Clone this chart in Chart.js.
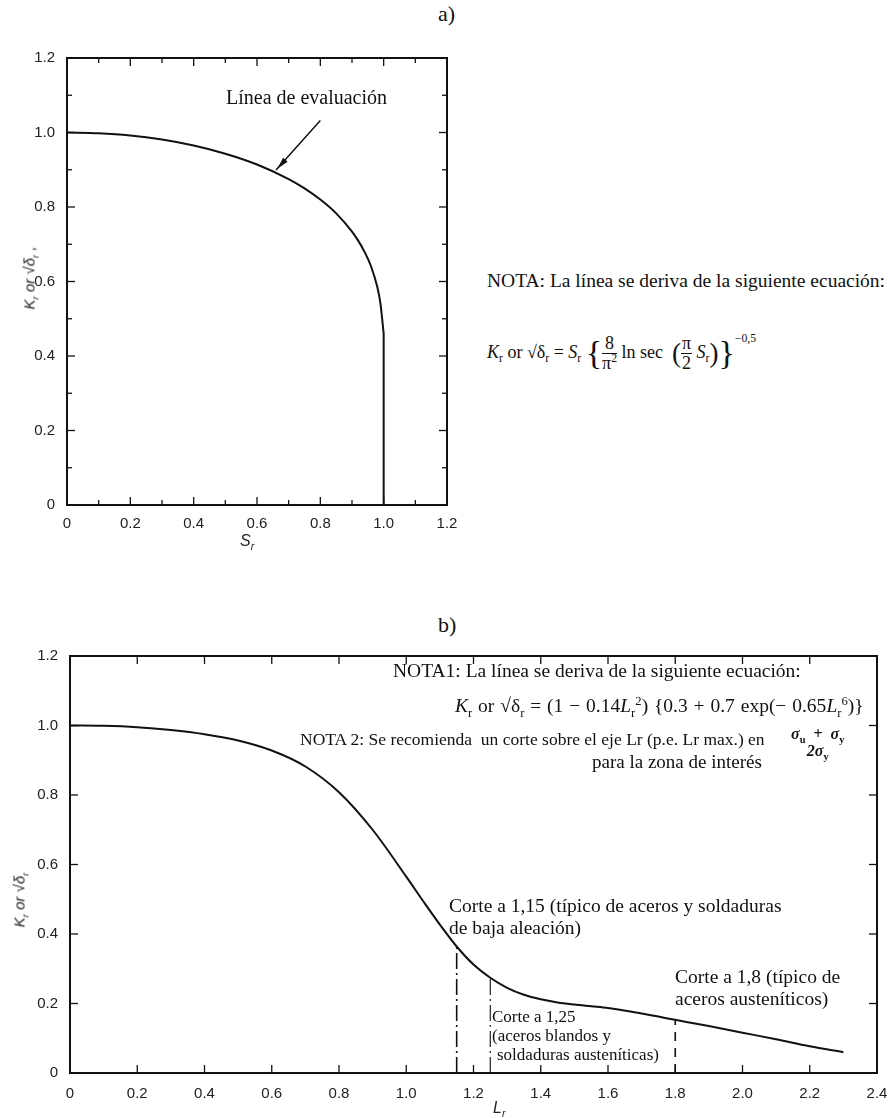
<!DOCTYPE html>
<html>
<head>
<meta charset="utf-8">
<script src="https://cdn.jsdelivr.net/npm/chart.js@4.4.1/dist/chart.umd.min.js"></script>
<style>
  html, body { margin:0; padding:0; background:#fff; }
  #wrap { position:relative; width:894px; height:1118px; background:#fff; overflow:hidden; }
  canvas { position:absolute; }
  .t { position:absolute; font-family:"Liberation Serif","Times New Roman",serif; color:#111; white-space:nowrap; line-height:1; }
  .ax { position:absolute; font-family:"Liberation Sans",sans-serif; color:#222; white-space:nowrap; line-height:1; font-style:italic; }
  .frac { display:inline-block; vertical-align:middle; text-align:center; line-height:1.05; }
  .frac span { display:block; }
  .frac .num { border-bottom:1px solid #111; padding:0 1px; }
  .big { font-size:34px; vertical-align:middle; line-height:1; }
  .mid { font-size:27px; vertical-align:middle; line-height:1; }
  sub, sup { font-size:65%; line-height:0; }
</style>
</head>
<body>
<div id="wrap">
  <canvas id="c1" width="470" height="520" style="left:0;top:30px;width:470px;height:520px"></canvas>
  <canvas id="c2" width="894" height="478" style="left:0;top:640px;width:894px;height:478px"></canvas>

  <div class="t" style="left:438px;top:3px;font-size:22px">a)</div>
  <div class="t" style="left:438px;top:614px;font-size:22px">b)</div>

  <div class="t" style="left:226px;top:87px;font-size:20px">Línea de evaluación</div>
  <div class="t" style="left:487px;top:271px;font-size:19.5px">NOTA: La línea se deriva de la siguiente ecuación:</div>
  <div class="t" style="left:487px;top:334px;font-size:18px">
    <i>K</i><sub>r</sub> or √δ<sub>r</sub> = <i>S</i><sub>r</sub>
    <span class="big">{</span><span class="frac"><span class="num">8</span><span>π<sup>2</sup></span></span> ln sec&nbsp;
    <span class="mid">(</span><span class="frac"><span class="num">π</span><span>2</span></span>
    <i>S</i><sub>r</sub><span class="mid">)</span><span class="big">}</span><sup style="vertical-align:16px">−0,5</sup>
  </div>

  <div class="t" style="left:393px;top:661px;font-size:19.5px">NOTA1: La línea se deriva de la siguiente ecuación:</div>
  <div class="t" style="left:455px;top:696px;font-size:19.5px;word-spacing:1px"><i>K</i><sub>r</sub> or √δ<sub>r</sub> = (1 − 0.14<i>L</i><sub>r</sub><sup>2</sup>) {0.3 + 0.7 exp(− 0.65<i>L</i><sub>r</sub><sup>6</sup>)}</div>
  <div class="t" style="left:300px;top:731px;font-size:17.5px">NOTA 2: Se recomienda&nbsp; un corte sobre el eje Lr (p.e. Lr max.) en</div>
  <div class="t" style="left:790px;top:726px;font-size:16px;font-weight:bold"><span class="frac"><span class="num" style="border:none"><i>σ</i><sub>u</sub> &nbsp;+&nbsp; <i>σ</i><sub>y</sub></span><span><i>2σ</i><sub>y</sub></span></span></div>
  <div class="t" style="left:592px;top:752px;font-size:19px">para la zona de interés</div>

  <div class="t" style="left:449px;top:896px;font-size:19.5px">Corte a 1,15 (típico de aceros y soldaduras</div>
  <div class="t" style="left:449px;top:918px;font-size:19.5px">de baja aleación)</div>
  <div class="t" style="left:675px;top:967px;font-size:19.5px">Corte a 1,8 (típico de</div>
  <div class="t" style="left:675px;top:989px;font-size:19.5px">aceros austeníticos)</div>
  <div class="t" style="left:492px;top:1008px;font-size:17px">Corte a 1,25</div>
  <div class="t" style="left:492px;top:1027px;font-size:17px">(aceros blandos y</div>
  <div class="t" style="left:497px;top:1046px;font-size:17px">soldaduras austeníticas)</div>

  <div class="ax" style="left:240px;top:533px;font-size:16px">S<sub>r</sub></div>
  <div class="ax" style="left:29px;top:278px;font-size:15px;transform:translate(-50%,-50%) rotate(-90deg)">K<sub>r</sub> or √δ<sub>r</sub> ,</div>
  <div class="ax" style="left:493px;top:1100px;font-size:16px">L<sub>r</sub></div>
  <div class="ax" style="left:19px;top:900px;font-size:15px;transform:translate(-50%,-50%) rotate(-90deg)">K<sub>r</sub> or √δ<sub>r</sub></div>
</div>

<script>
// ---- Chart a) ----
const srValues = [0, 0.1, 0.2, 0.3, 0.4, 0.5, 0.6, 0.7, 0.75, 0.8, 0.85, 0.9, 0.92, 0.94, 0.96, 0.98, 0.99, 0.995];
const krValuesA = [1.0, 0.998, 0.992, 0.981, 0.965, 0.943, 0.914, 0.875, 0.850, 0.820, 0.783, 0.734, 0.709, 0.679, 0.641, 0.585, 0.540, 0.502];
const cutoffSr = [0.995, 1.0, 1.0];
const cutoffKr = [0.502, 0.46, 0];
const ticksA = ['0', '0.2', '0.4', '0.6', '0.8', '1.0', '1.2'];

// ---- Chart b) ----
const lrValues = [0, 0.1, 0.2, 0.3, 0.4, 0.5, 0.6, 0.7, 0.8, 0.9, 1.0, 1.05, 1.1, 1.15, 1.2, 1.25, 1.3, 1.35, 1.4, 1.45, 1.5, 1.55, 1.6, 1.7, 1.8, 1.9, 2.0, 2.1, 2.2, 2.3];
const krValuesB = [1.0, 0.999, 0.995, 0.987, 0.975, 0.957, 0.928, 0.882, 0.808, 0.700, 0.565, 0.495, 0.427, 0.364, 0.312, 0.274, 0.245, 0.225, 0.212, 0.203, 0.197, 0.192, 0.187, 0.171, 0.153, 0.135, 0.116, 0.097, 0.077, 0.060];
const cut115 = [1.15, 0.364];
const cut125 = [1.25, 0.274];
const cut180 = [1.8, 0.153];
const xTicksB = ['0', '0.2', '0.4', '0.6', '0.8', '1.0', '1.2', '1.4', '1.6', '1.8', '2.0', '2.2', '2.4'];
const yTicksB = ['0', '0.2', '0.4', '0.6', '0.8', '1.0', '1.2'];

const pts = (xs, ys) => xs.map((x, i) => ({x, y: ys[i]}));
const INK = '#111';
const tickFont = {family: '"Liberation Sans",Arial,sans-serif', size: 15};

const framePlugin = {
  id: 'frame',
  afterDraw(chart, args, o) {
    const {ctx, chartArea: a, scales: {x, y}} = chart;
    ctx.save();
    ctx.strokeStyle = INK;
    ctx.lineWidth = 2;
    ctx.strokeRect(a.left, a.top, a.right - a.left, a.bottom - a.top);
    ctx.lineWidth = 1.3;
    const drawX = (v, len) => {
      const px = x.getPixelForValue(v);
      ctx.beginPath(); ctx.moveTo(px, a.bottom); ctx.lineTo(px, a.bottom - len); ctx.stroke();
      ctx.beginPath(); ctx.moveTo(px, a.top); ctx.lineTo(px, a.top + len); ctx.stroke();
    };
    const drawY = (v, len) => {
      const py = y.getPixelForValue(v);
      ctx.beginPath(); ctx.moveTo(a.left, py); ctx.lineTo(a.left + len, py); ctx.stroke();
      ctx.beginPath(); ctx.moveTo(a.right, py); ctx.lineTo(a.right - len, py); ctx.stroke();
    };
    for (let i = 1; i < o.nx; i++) drawX(i * o.xStep, (o.minor && i % 2) ? 5 : 8);
    for (let i = 1; i < o.ny; i++) drawY(i * o.yStep, (o.minor && i % 2) ? 5 : 8);
    ctx.restore();
  }
};

function makeScales(xMax, yMax, xLabels, yLabels, leftW, bottomH, xPad) {
  return {
    x: {
      type: 'linear', min: 0, max: xMax,
      grid: {display: false}, border: {display: false},
      ticks: {stepSize: 0.2, color: '#222', font: tickFont, padding: xPad, maxRotation: 0,
        callback: (v, i) => xLabels[i]},
      afterFit: s => { s.height = bottomH; }
    },
    y: {
      type: 'linear', min: 0, max: yMax,
      grid: {display: false}, border: {display: false},
      ticks: {stepSize: 0.2, color: '#222', font: tickFont, padding: 4,
        callback: (v, i) => yLabels[i]},
      afterFit: s => { s.width = leftW; }
    }
  };
}

new Chart(document.getElementById('c1'), {
  type: 'line',
  data: {
    datasets: [
      {data: pts(srValues, krValuesA), borderColor: INK, borderWidth: 2, pointRadius: 0, cubicInterpolationMode: 'monotone'},
      {data: pts(cutoffSr, cutoffKr), borderColor: INK, borderWidth: 2, pointRadius: 0, tension: 0}
    ]
  },
  options: {
    responsive: false, animation: false, devicePixelRatio: 1,
    layout: {padding: {top: 28, right: 23, left: 0, bottom: 0}},
    plugins: {legend: {display: false}, tooltip: {enabled: false},
      frame: {nx: 12, ny: 12, xStep: 0.1, yStep: 0.1, minor: true}},
    scales: makeScales(1.2, 1.2, ticksA, ticksA, 67, 45, 2)
  },
  plugins: [framePlugin, {
    id: 'arrowA',
    afterDatasetsDraw(chart) {
      const {ctx, scales: {x, y}} = chart;
      const tx = x.getPixelForValue(0.66), ty = y.getPixelForValue(0.899);
      const sx = x.getPixelForValue(0.80), sy = y.getPixelForValue(1.032);
      ctx.save();
      ctx.strokeStyle = INK; ctx.fillStyle = INK; ctx.lineWidth = 1.5;
      ctx.beginPath(); ctx.moveTo(sx, sy); ctx.lineTo(tx, ty); ctx.stroke();
      const ang = Math.atan2(ty - sy, tx - sx);
      const hx = tx - Math.cos(ang) * 6, hy = ty - Math.sin(ang) * 6;
      ctx.beginPath();
      ctx.moveTo(hx + Math.cos(ang) * 4, hy + Math.sin(ang) * 4);
      ctx.lineTo(hx - Math.cos(ang) * 8 + Math.sin(ang) * 3, hy - Math.sin(ang) * 8 - Math.cos(ang) * 3);
      ctx.lineTo(hx - Math.cos(ang) * 8 - Math.sin(ang) * 3, hy - Math.sin(ang) * 8 + Math.cos(ang) * 3);
      ctx.closePath(); ctx.fill();
      ctx.restore();
    }
  }]
});

new Chart(document.getElementById('c2'), {
  type: 'line',
  data: {
    datasets: [
      {data: pts(lrValues, krValuesB), borderColor: INK, borderWidth: 2, pointRadius: 0, cubicInterpolationMode: 'monotone'},
      {data: [{x: cut115[0], y: 0}, {x: cut115[0], y: cut115[1]}], borderColor: INK, borderWidth: 1.6, pointRadius: 0, borderDash: [16, 4, 2, 4]},
      {data: [{x: cut125[0], y: 0}, {x: cut125[0], y: cut125[1]}], borderColor: '#333', borderWidth: 1.3, pointRadius: 0, borderDash: [16, 4, 2, 4]},
      {data: [{x: cut180[0], y: 0}, {x: cut180[0], y: cut180[1]}], borderColor: INK, borderWidth: 1.6, pointRadius: 0, borderDash: [9, 7]}
    ]
  },
  options: {
    responsive: false, animation: false, devicePixelRatio: 1,
    layout: {padding: {top: 16, right: 17, left: 0, bottom: 0}},
    plugins: {legend: {display: false}, tooltip: {enabled: false},
      frame: {nx: 12, ny: 6, xStep: 0.2, yStep: 0.2, minor: false}},
    scales: makeScales(2.4, 1.2, xTicksB, yTicksB, 70, 45, 4)
  },
  plugins: [framePlugin]
});
</script>
</body>
</html>
